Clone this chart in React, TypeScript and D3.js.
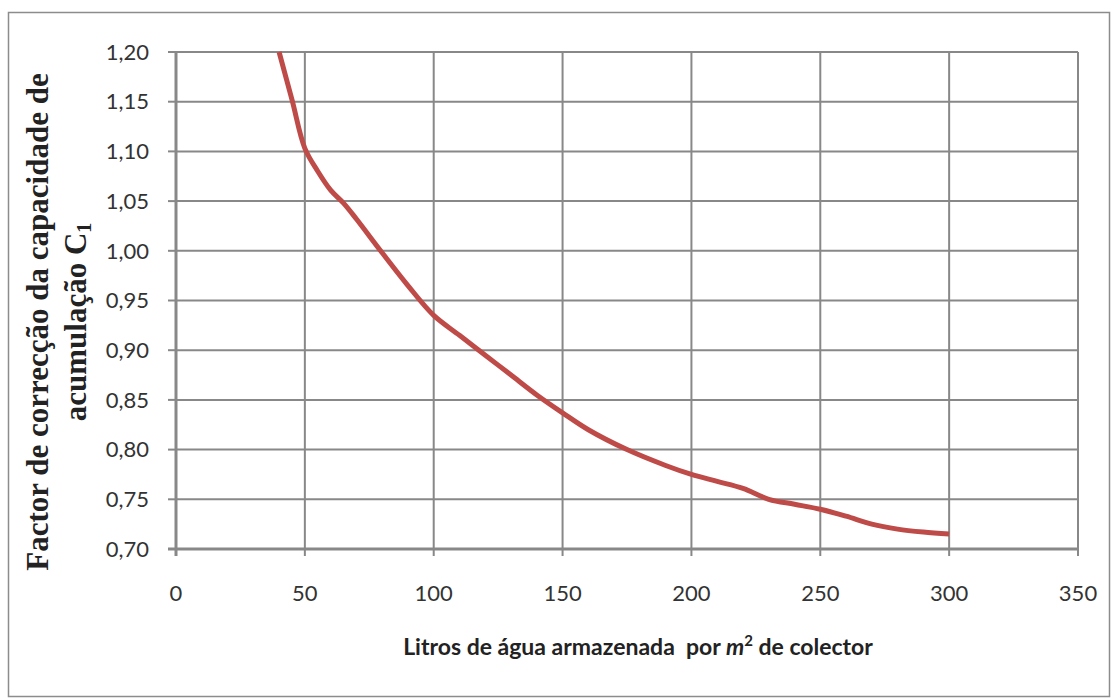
import React, { useEffect, useRef } from 'react';
import * as d3 from 'd3';

// litros por m2 de colector
const litros = [40, 45, 50, 55, 60, 65, 70, 80, 90, 100, 110, 120, 130, 140, 150, 160, 175, 190, 200, 210, 220, 230, 240, 250, 260, 270, 280, 290, 300];
// factor C1
const factor = [1.2, 1.152, 1.103, 1.08, 1.061, 1.048, 1.032, 0.998, 0.965, 0.935, 0.915, 0.895, 0.875, 0.855, 0.837, 0.82, 0.8, 0.784, 0.775, 0.768, 0.761, 0.75, 0.745, 0.74, 0.733, 0.725, 0.72, 0.717, 0.715];

const xTicks = [0, 50, 100, 150, 200, 250, 300, 350];
const yTicks = [0.7, 0.75, 0.8, 0.85, 0.9, 0.95, 1.0, 1.05, 1.1, 1.15, 1.2];

const W = 1113;
const H = 698;

export default function App() {
  const svgRef = useRef<SVGSVGElement>(null);

  useEffect(() => {
    const svg = d3.select(svgRef.current);
    svg.selectAll('*').remove();

    const x = d3.scaleLinear().domain([0, 350]).range([176, 1078]);
    const y = d3.scaleLinear().domain([0.7, 1.2]).range([549, 52]);

    // outer frame
    svg.append('rect')
      .attr('x', 8.5).attr('y', 12.5)
      .attr('width', 1101).attr('height', 684)
      .attr('fill', '#fff')
      .attr('stroke', '#8c8c8c')
      .attr('stroke-width', 1.5);

    const grid = '#888888';

    // horizontal grid
    svg.append('g').selectAll('line').data(yTicks.slice(1)).join('line')
      .attr('x1', x(0)).attr('x2', x(350))
      .attr('y1', d => y(d)).attr('y2', d => y(d))
      .attr('stroke', grid).attr('stroke-width', 2);

    // vertical grid
    svg.append('g').selectAll('line').data(xTicks.slice(1)).join('line')
      .attr('x1', d => x(d)).attr('x2', d => x(d))
      .attr('y1', y(1.2)).attr('y2', y(0.7) + 7)
      .attr('stroke', grid).attr('stroke-width', 2);

    // y ticks
    svg.append('g').selectAll('line').data(yTicks).join('line')
      .attr('x1', x(0) - 8).attr('x2', x(0))
      .attr('y1', d => y(d)).attr('y2', d => y(d))
      .attr('stroke', grid).attr('stroke-width', 2);

    // axes
    svg.append('line')
      .attr('x1', x(0) - 8).attr('x2', x(350))
      .attr('y1', y(0.7)).attr('y2', y(0.7))
      .attr('stroke', grid).attr('stroke-width', 3);
    svg.append('line')
      .attr('x1', x(0)).attr('x2', x(0))
      .attr('y1', y(1.2)).attr('y2', y(0.7) + 7)
      .attr('stroke', grid).attr('stroke-width', 3);

    const fmt = (d: number) => d3.format('.2f')(d).replace('.', ',');

    svg.append('g').selectAll('text').data(yTicks).join('text')
      .attr('x', 149).attr('y', d => y(d))
      .attr('dy', '0.35em')
      .attr('text-anchor', 'end')
      .attr('font-family', 'Lato, sans-serif')
      .attr('font-size', 22)
      .attr('fill', '#333')
      .text(fmt);

    svg.append('g').selectAll('text').data(xTicks).join('text')
      .attr('x', d => x(d)).attr('y', 593)
      .attr('dy', '0.35em')
      .attr('text-anchor', 'middle')
      .attr('font-family', 'Lato, sans-serif')
      .attr('font-size', 22)
      .attr('fill', '#333')
      .text(d => String(d));

    // curve
    const line = d3.line<number>()
      .x((_, i) => x(litros[i]))
      .y(d => y(d))
      .curve(d3.curveCatmullRom.alpha(0.5));

    svg.append('path')
      .datum(factor)
      .attr('d', line)
      .attr('fill', 'none')
      .attr('stroke', '#be4b48')
      .attr('stroke-width', 5)
      .attr('stroke-linecap', 'butt');

    // x title
    const xt = svg.append('text')
      .attr('x', 638).attr('y', 647)
      .attr('dy', '0.35em')
      .attr('text-anchor', 'middle')
      .attr('font-family', 'Lato, sans-serif')
      .attr('font-weight', 'bold')
      .attr('font-size', 23)
      .attr('fill', '#222')
      .attr('xml:space', 'preserve');
    xt.append('tspan').text('Litros de água armazenada  por ');
    xt.append('tspan').attr('font-style', 'italic').text('m');
    xt.append('tspan').attr('font-size', 15).attr('dy', '-0.6em').text('2');
    xt.append('tspan').attr('dy', '0.4em').text(' de colector');

    // y title
    const yt = svg.append('g')
      .attr('transform', 'translate(0,322) rotate(-90)')
      .attr('font-family', '"Liberation Serif", serif')
      .attr('font-weight', 'bold')
      .attr('font-size', 31)
      .attr('fill', '#222')
      .attr('text-anchor', 'middle');
    yt.append('text').attr('x', 0).attr('y', 48).text('Factor de correcção da capacidade de');
    const l2 = yt.append('text').attr('x', 0).attr('y', 86);
    l2.append('tspan').text('acumulação C');
    l2.append('tspan').attr('font-size', 20).attr('dy', 5).text('1');
  }, []);

  return (
    <svg
      ref={svgRef}
      width={W}
      height={H}
      style={{ position: 'absolute', left: 0, top: 0, display: 'block', background: '#fff' }}
    />
  );
}
